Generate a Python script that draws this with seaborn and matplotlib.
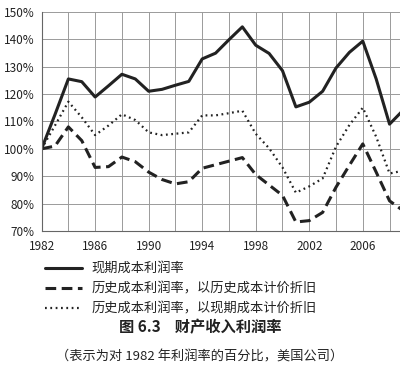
import matplotlib
matplotlib.use('Agg')
import matplotlib.pyplot as plt
import matplotlib.ticker as mticker
import seaborn as sns
import pandas as pd

# Dados (% da taxa de lucro de 1982)
anos = list(range(1982, 2010))
corrente = [100, 112.5, 125.5, 124.5, 118.9, 123, 127.2, 125.5, 121, 121.7,
            123.2, 124.6, 132.8, 134.9, 139.8, 144.5, 137.8, 134.8, 128.5, 115.3,
            117, 121, 129.5, 135.2, 139.3, 125.5, 109, 114]
historico = [100, 101, 108, 103, 93.2, 93.5, 97, 95.3, 91.5, 88.8,
             87.2, 88, 92.9, 94.2, 95.5, 96.8, 90.6, 86.8, 83, 73.3,
             73.8, 76.8, 86, 94, 101.8, 91.5, 81, 77.5]
hist_corr = [100, 108.5, 117.2, 111.5, 105, 108.5, 112.6, 110.5, 106, 105,
             105.5, 106, 112.2, 112.2, 113, 113.9, 105.5, 100.2, 93.2, 84,
             86.3, 89.2, 100.8, 108.7, 115, 104.4, 91, 92]
nomes = ['现期成本利润率',
         '历史成本利润率，以历史成本计价折旧',
         '历史成本利润率，以现期成本计价折旧']
x_ticks = [1982, 1986, 1990, 1994, 1998, 2002, 2006]

sns.set_style('white')
plt.rcParams['font.family'] = ['Noto Sans CJK SC', 'DejaVu Sans']

fig = plt.figure(figsize=(4, 3.8), dpi=100)
ax = fig.add_axes([0.104, 0.392, 0.9, 0.577])

estilos = [dict(ls='-', lw=2.2), dict(ls=(0, (3.5, 1.8)), lw=2.2), dict(ls=(0, (0.8, 1.6)), lw=1.6)]
for serie, nome, st in zip([corrente, historico, hist_corr], nomes, estilos):
    df = pd.DataFrame({'ano': anos, 'valor': serie})
    sns.lineplot(data=df, x='ano', y='valor', ax=ax, color='#222222',
                 linestyle=st['ls'], linewidth=st['lw'], label=nome, legend=False)

ax.set_xlim(1982, 2008.9)
ax.set_ylim(70, 150)
ax.set_xticks(x_ticks)
ax.xaxis.set_minor_locator(mticker.MultipleLocator(1))
ax.set_yticks(range(70, 151, 10))
ax.yaxis.set_major_formatter(mticker.FuncFormatter(lambda v, p: f'{v:.0f}%'))
ax.grid(True, which='major', axis='y', color='#9a9a9a', lw=0.7)
for a in range(1982, 2010, 2):
    ax.axvline(a, color='#9a9a9a', lw=0.7, zorder=0)
ax.set_xlabel('')
ax.set_ylabel('')
for s in ['top', 'right']:
    ax.spines[s].set_visible(False)
ax.spines['left'].set_color('#666666')
ax.spines['bottom'].set_color('#666666')
ax.tick_params(axis='both', labelsize=8.5, colors='#222222', length=3, width=0.7, direction='out')
ax.tick_params(axis='x', which='minor', length=2, width=0.6, color='#666666')
ax.tick_params(axis='y', pad=2)

h, l = ax.get_legend_handles_labels()
fig.legend(h, l, loc='upper left', bbox_to_anchor=(0.0825, 0.34), frameon=False,
           fontsize=9.5, handlelength=2.8, labelspacing=0.5, handletextpad=0.75,
           labelcolor='#222222')

fig.text(0.5, 0.139, '图 6.3    财产收入利润率', ha='center', va='center',
         fontsize=11, fontweight='bold', color='#222222')
fig.text(0.5, 0.06, '（表示为对 1982 年利润率的百分比，美国公司）', ha='center', va='center',
         fontsize=9.5, color='#222222')

fig.savefig('out.png', dpi=100)
